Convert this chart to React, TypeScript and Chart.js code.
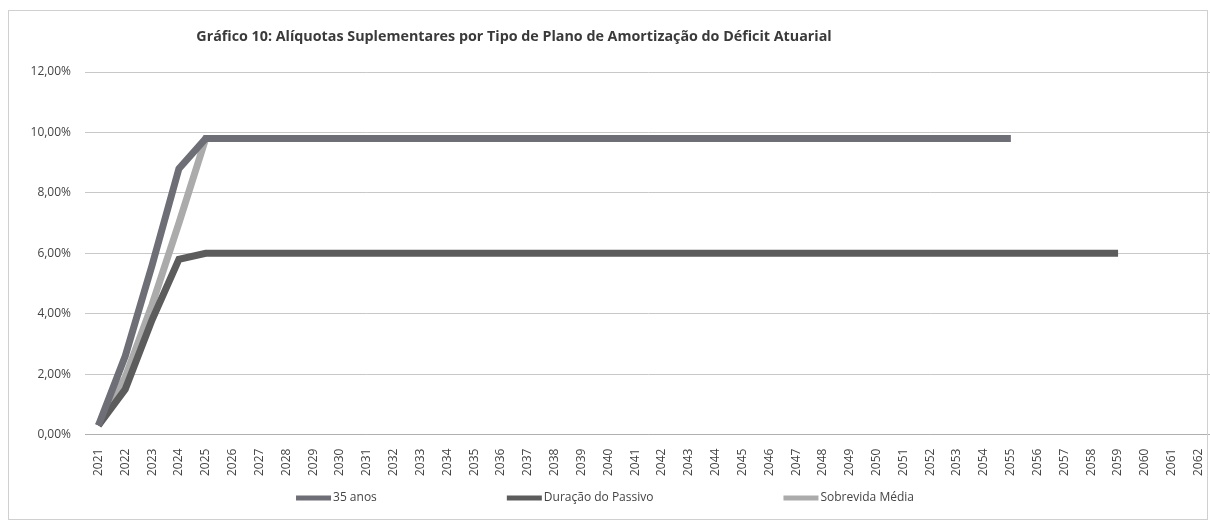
import React, { useEffect, useRef } from "react";
import { Chart, registerables } from "chart.js";

Chart.register(...registerables);

const years: string[] = [];
for (let y = 2021; y <= 2062; y++) years.push(String(y));

const TITLE = "Gráfico 10: Alíquotas Suplementares por Tipo de Plano de Amortização do Déficit Atuarial";

// values in %
const serie35anos: (number | null)[] = [
  0.3, 2.6, 5.6, 8.8, 9.8, 9.8, 9.8, 9.8, 9.8, 9.8,
  9.8, 9.8, 9.8, 9.8, 9.8, 9.8, 9.8, 9.8, 9.8, 9.8,
  9.8, 9.8, 9.8, 9.8, 9.8, 9.8, 9.8, 9.8, 9.8, 9.8,
  9.8, 9.8, 9.8, 9.8, 9.8,
];
const serieDuracao: (number | null)[] = [
  0.3, 1.5, 3.8, 5.8, 6.0, 6.0, 6.0, 6.0, 6.0, 6.0,
  6.0, 6.0, 6.0, 6.0, 6.0, 6.0, 6.0, 6.0, 6.0, 6.0,
  6.0, 6.0, 6.0, 6.0, 6.0, 6.0, 6.0, 6.0, 6.0, 6.0,
  6.0, 6.0, 6.0, 6.0, 6.0, 6.0, 6.0, 6.0, 6.0,
];
const serieSobrevida: (number | null)[] = [
  0.3, 1.9, 4.3, 7.0, 9.8, 9.8, 9.8, 9.8, 9.8, 9.8,
  9.8, 9.8, 9.8, 9.8, 9.8, 9.8, 9.8, 9.8, 9.8, 9.8,
  9.8, 9.8, 9.8, 9.8, 9.8, 9.8, 9.8, 9.8, 9.8, 9.8,
  9.8, 9.8, 9.8, 9.8, 9.8,
];

const FONT = "'Open Sans', sans-serif";

const titlePlugin = {
  id: "customTitle",
  afterDraw(chart: any) {
    const ctx = chart.ctx;
    ctx.save();
    ctx.font = `bold 14.3px ${FONT}`;
    ctx.fillStyle = "#3a3a3a";
    ctx.textAlign = "center";
    ctx.textBaseline = "middle";
    ctx.fillText(TITLE, 514, 37);
    ctx.restore();
  },
};

const legendPlugin = {
  id: "customLegend",
  afterDraw(chart: any) {
    const ctx = chart.ctx;
    const ds = chart.data.datasets;
    const swatch = 35;
    const gap = 130;
    ctx.save();
    ctx.font = `12px ${FONT}`;
    const widths = ds.map((d: any) => swatch + 2 + ctx.measureText(d.label).width);
    const total = widths.reduce((a: number, b: number) => a + b, 0) + gap * (ds.length - 1);
    let x = 605 - total / 2;
    const y = 498;
    ds.forEach((d: any, i: number) => {
      ctx.strokeStyle = d.borderColor;
      ctx.lineWidth = 5;
      ctx.beginPath();
      ctx.moveTo(x, y);
      ctx.lineTo(x + swatch, y);
      ctx.stroke();
      ctx.fillStyle = "#444";
      ctx.textAlign = "left";
      ctx.textBaseline = "middle";
      ctx.fillText(d.label, x + swatch + 2, y);
      x += widths[i] + gap;
    });
    ctx.restore();
  },
};

export default function App() {
  const ref = useRef<HTMLCanvasElement>(null);
  useEffect(() => {
    document.body.style.margin = "0";
    const chart = new Chart(ref.current!, {
      type: "line",
      data: {
        labels: years,
        datasets: [
          {
            label: "35 anos",
            data: serie35anos,
            borderColor: "#6e6e76",
            backgroundColor: "#6e6e76",
            borderWidth: 7,
            pointRadius: 0,
            tension: 0,
          },
          {
            label: "Duração do Passivo",
            data: serieDuracao,
            borderColor: "#5c5c5c",
            backgroundColor: "#5c5c5c",
            borderWidth: 7,
            pointRadius: 0,
            tension: 0,
          },
          {
            label: "Sobrevida Média",
            data: serieSobrevida,
            borderColor: "#ababab",
            backgroundColor: "#ababab",
            borderWidth: 7,
            pointRadius: 0,
            tension: 0,
          },
        ],
      },
      options: {
        animation: false,
        responsive: false,
        layout: { padding: { left: 18, right: 2, top: 72, bottom: 40 } },
        plugins: {
          title: { display: false },
          tooltip: { enabled: false },
          legend: { display: false },
        },
        scales: {
          x: {
            offset: true,
            grid: { display: false },
            border: { display: true, color: "#b0b0b0" },
            ticks: {
              autoSkip: false,
              maxRotation: 90,
              minRotation: 90,
              color: "#444",
              padding: 6,
              font: { family: FONT, size: 12 },
            },
          },
          y: {
            min: 0,
            max: 12,
            afterFit: (s: any) => { s.width = 67; },
            grid: { color: "#c8c8c8", drawTicks: false },
            border: { display: false },
            ticks: {
              stepSize: 2,
              padding: 14,
              color: "#444",
              font: { family: FONT, size: 12 },
              callback: (v: any) => Number(v).toFixed(2).replace(".", ",") + "%",
            },
          },
        },
      },
      plugins: [titlePlugin, legendPlugin],
    });
    return () => chart.destroy();
  }, []);
  return (
    <div style={{ position: "absolute", left: 0, top: 0, width: 1210, height: 522, background: "#fff", overflow: "hidden" }}>
      <canvas ref={ref} width={1219} height={522} style={{ position: "absolute", left: 0, top: 0 }} />
      <div style={{ position: "absolute", left: 8, top: 10, width: 1200, height: 510, border: "1px solid #d0d0d0", boxSizing: "border-box", pointerEvents: "none" }} />
    </div>
  );
}
